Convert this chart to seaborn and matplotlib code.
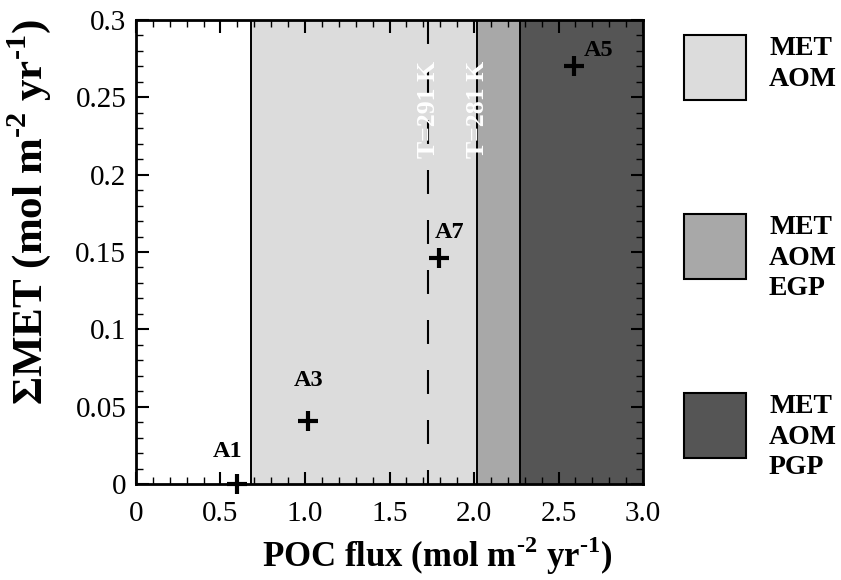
import matplotlib
matplotlib.use("Agg")
import matplotlib.pyplot as plt
import seaborn as sns
import pandas as pd
from matplotlib.patches import Rectangle

sns.set_theme(style="ticks")
plt.rcParams['font.family'] = ['Liberation Serif', 'DejaVu Serif']
plt.rcParams['mathtext.fontset'] = 'custom'
plt.rcParams['mathtext.rm'] = 'Liberation Serif:bold'
plt.rcParams['mathtext.bf'] = 'Liberation Serif:bold'
for k in ['text.color', 'axes.labelcolor', 'xtick.color', 'ytick.color', 'axes.edgecolor']:
    plt.rcParams[k] = 'black'

# data
sites = ["A1", "A3", "A7", "A5"]
poc_flux = [0.60, 1.02, 1.79, 2.59]
sum_met = [0.0, 0.041, 0.146, 0.270]
region_edges = [0.68, 2.02, 2.27, 3.0]
region_colors = ["#dcdcdc", "#a8a8a8", "#555555"]
region_labels = ["MET\nAOM", "MET\nAOM\nEGP", "MET\nAOM\nPGP"]
dashed_x = 1.73
temp_labels = ["T=291 K", "T=281 K"]
temp_x = [1.73, 2.02]
temp_y = 0.242
xticks = [0, 0.5, 1.0, 1.5, 2.0, 2.5, 3.0]
xticklabels = ["0", "0.5", "1.0", "1.5", "2.0", "2.5", "3.0"]
yticks = [0, 0.05, 0.1, 0.15, 0.2, 0.25, 0.3]
yticklabels = ["0", "0.05", "0.1", "0.15", "0.2", "0.25", "0.3"]

df = pd.DataFrame({"site": sites, "poc": poc_flux, "met": sum_met})

fig = plt.figure(figsize=(8.41, 5.8), dpi=100)
ax = fig.add_axes([0.1617, 0.1655, 0.6029, 0.8])

for i in range(3):
    ax.axvspan(region_edges[i], region_edges[i + 1], color=region_colors[i], zorder=0, lw=0)
for e in region_edges[:3]:
    ax.axvline(e, color="black", lw=1.4, zorder=1)
ax.plot([dashed_x, dashed_x], [0.3, 0.0], color="black", lw=1.5,
        ls=(0, (11.5, 12.5)), zorder=1)

sns.scatterplot(data=df, x="poc", y="met", marker="+", s=210, color="black",
                linewidth=3.0, ax=ax, zorder=5, clip_on=False, legend=False)

# label offsets in points (dx, dy, ha)
offsets = {"A1": (-7, 16, "center"), "A3": (0, 21, "center"),
           "A7": (-3, 11, "left"), "A5": (7, 4, "left")}
for s, x, y in zip(sites, poc_flux, sum_met):
    dx, dy, ha = offsets[s]
    ax.annotate(s, (x, y), xytext=(dx, dy), textcoords="offset points",
                fontsize=17.5, fontweight="bold", ha=ha, va="bottom", zorder=6)

for lab, x in zip(temp_labels, temp_x):
    ax.text(x, temp_y, lab, rotation=90, color="white", fontsize=18.5,
            fontweight="bold", ha="center", va="center", zorder=4)

ax.set_xlim(0, 3.0)
ax.set_ylim(0, 0.3)
ax.set_xticks(xticks)
ax.set_xticklabels(xticklabels)
ax.set_yticks(yticks)
ax.set_yticklabels(yticklabels)
ax.set_xticks([i / 10 for i in range(31)], minor=True)
ax.set_yticks([i / 100 for i in range(31)], minor=True)
ax.tick_params(which="both", direction="in", top=True, right=True, color="black")
ax.tick_params(which="major", length=9, width=1.5, labelsize=21)
ax.tick_params(axis="x", which="major", pad=12)
ax.tick_params(axis="y", which="major", pad=7)
ax.tick_params(which="minor", length=5, width=1.0)
for sp in ax.spines.values():
    sp.set_linewidth(2)
    sp.set_color("black")
    sp.set_zorder(10)

ax.set_xlabel(r"POC flux (mol m$^{\text{-}2}$ yr$^{\text{-}1}$)", fontsize=25,
              fontweight="bold")
ax.set_ylabel(r"ΣMET (mol m$^{\text{-}2}$ yr$^{\text{-}1}$)", fontsize=31,
              fontweight="bold")
ax.xaxis.set_label_coords(0.594, -0.108)
ax.yaxis.set_label_coords(-0.163, 0.586)

# legend boxes
W, H = 841, 580
boxes = [(684, 35), (684, 214), (684, 393)]
for (bx, by), col, lab in zip(boxes, region_colors, region_labels):
    fig.patches.append(Rectangle((bx / W, 1 - (by + 65) / H), 62 / W, 65 / H,
                                 transform=fig.transFigure, facecolor=col,
                                 edgecolor="black", lw=1.5))
    fig.text(769 / W, 1 - (by + 1) / H, lab, fontsize=20, fontweight="bold",
             va="top", ha="left", linespacing=1.3)

fig.savefig("out.png", dpi=100)
